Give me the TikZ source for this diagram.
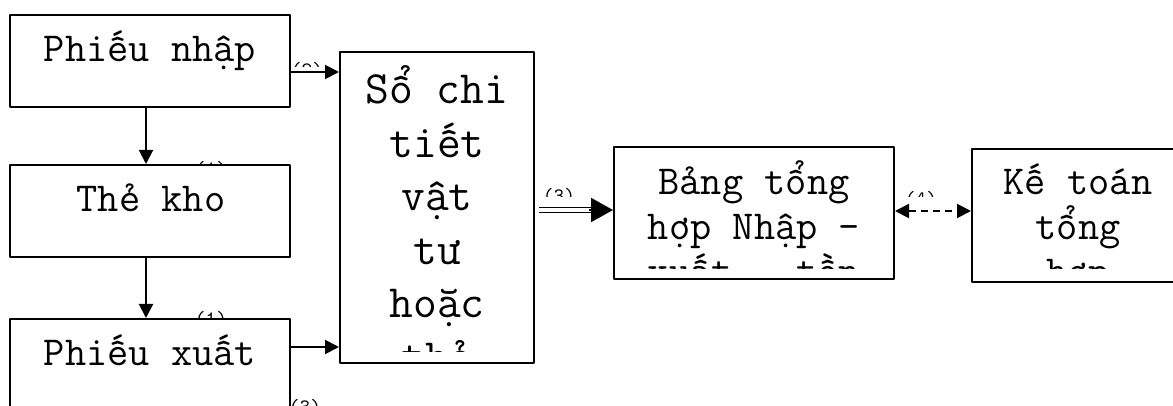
\documentclass[tikz,border=0pt]{standalone}
\usepackage{fontspec}
\usetikzlibrary{arrows.meta}

\begin{document}
\begin{tikzpicture}[x=0.5pt, y=-0.5pt, line join=round,
		box/.style={draw, fill=white, line width=1pt, inner sep=0pt},
		txt/.style={font=\ttfamily\fontsize{20.6}{22.5}\selectfont, inner sep=0pt, anchor=base},
		big/.style={font=\ttfamily\fontsize{23.1}{26.75}\selectfont, inner sep=0pt, anchor=base},
		num/.style={font=\ttfamily\fontsize{10.2}{10}\selectfont, inner sep=0pt, anchor=base},
		link/.style={line width=1pt, -{Triangle[length=7pt,width=7pt]}}]
		\useasboundingbox (0,0) rectangle (1173,406);
		\clip (0,0) rectangle (1173,406);
		% step numbers partly hidden under the boxes
		\node[num] (n1a) at (211,176) {(1)};
		\node[num] (n1b) at (211,326) {(1)};
		\node[num] (n3b) at (305,414) {(3)};
		% boxes
		\node[box, minimum width=140pt, minimum height=46pt] (pn) at (150,61) {};
		\node[box, minimum width=140pt, minimum height=46pt] (tk) at (150,211) {};
		\node[box, minimum width=140pt, minimum height=46pt] (px) at (150,365) {};
		\node[box, minimum width=97pt, minimum height=155.5pt] (sct) at (437,207.5) {};
		\node[box, minimum width=140pt, minimum height=66pt] (bth) at (754,213) {};
		\node[box, minimum width=106pt, minimum height=66.5pt] (kt) at (1078,215.5) {};
		% texts
		\node[txt] (pnt) at (150,62) {Phiếu nhập};
		\node[txt] (tkt) at (151,212) {Thẻ kho};
		\node[txt] (pxt) at (150,365) {Phiếu xuất};
		\begin{scope}
			\clip (sct.north west) rectangle ([yshift=6pt]sct.south east);
			\foreach \t [count=\i] in {Sổ chi, tiết, vật, tư, hoặc, thẻ}
				\node[big] (sct\i) at (437,{104+53.5*(\i-1)}) {\t};
		\end{scope}
		\begin{scope}
			\clip (bth.north west) rectangle ([yshift=5.5pt]bth.south east);
			\foreach \t [count=\i] in {Bảng tổng, hợp Nhập -, xuất - tồn}
				\node[txt] (bth\i) at (754,{195+45*(\i-1)}) {\t};
		\end{scope}
		\begin{scope}
			\clip (kt.north west) rectangle ([yshift=7pt]kt.south east);
			\foreach \t [count=\i] in {Kế toán, tổng, hợp}
				\node[txt] (kt\i) at (1078,{195+45*(\i-1)}) {\t};
		\end{scope}
		% arrows
		\path (0,72) coordinate (r1) (0,347) coordinate (r3) (0,210) coordinate (r4) (0,211) coordinate (r5);
		\draw[link] (pn.east |- r1) -- (sct.west |- r1);
		\draw[link] (px.east |- r3) -- (sct.west |- r3);
		\draw[link] ([xshift=-2pt]pn.south) -- ([xshift=-2pt]tk.north);
		\draw[link] ([xshift=-2pt]tk.south) -- ([xshift=-2pt]px.north);
		\coordinate (d1) at (sct.east |- r4);
		\coordinate (d2) at (bth.west |- r4);
		\draw[line width=0.9pt, double, double distance=1.6pt, shorten >=10pt] ([xshift=2pt]d1) -- (d2);
		\draw[line width=1pt, -{Triangle[length=11pt,width=12pt]}] ([xshift=-12pt]d2) -- (d2);
		\draw[line width=1pt, dash pattern=on 3.5pt off 2.5pt,
			{Triangle[length=7pt,width=7pt]}-{Triangle[length=7pt,width=7pt]}] (bth.east |- r5) -- (kt.west |- r5);
		% step numbers cut off at the top of their frames
		\begin{scope}
			\clip (290,50) rectangle (340,67);
			\node[num] (n2) at (307,77) {(2)};
		\end{scope}
		\begin{scope}
			\clip (534,180) rectangle (614,197);
			\node[num] (n3) at (559,203) {(3)};
		\end{scope}
		\begin{scope}
			\clip (894,180) rectangle (972,197);
			\node[num] (n4) at (921,206) {(4)};
		\end{scope}
	\end{tikzpicture}
\end{document}
